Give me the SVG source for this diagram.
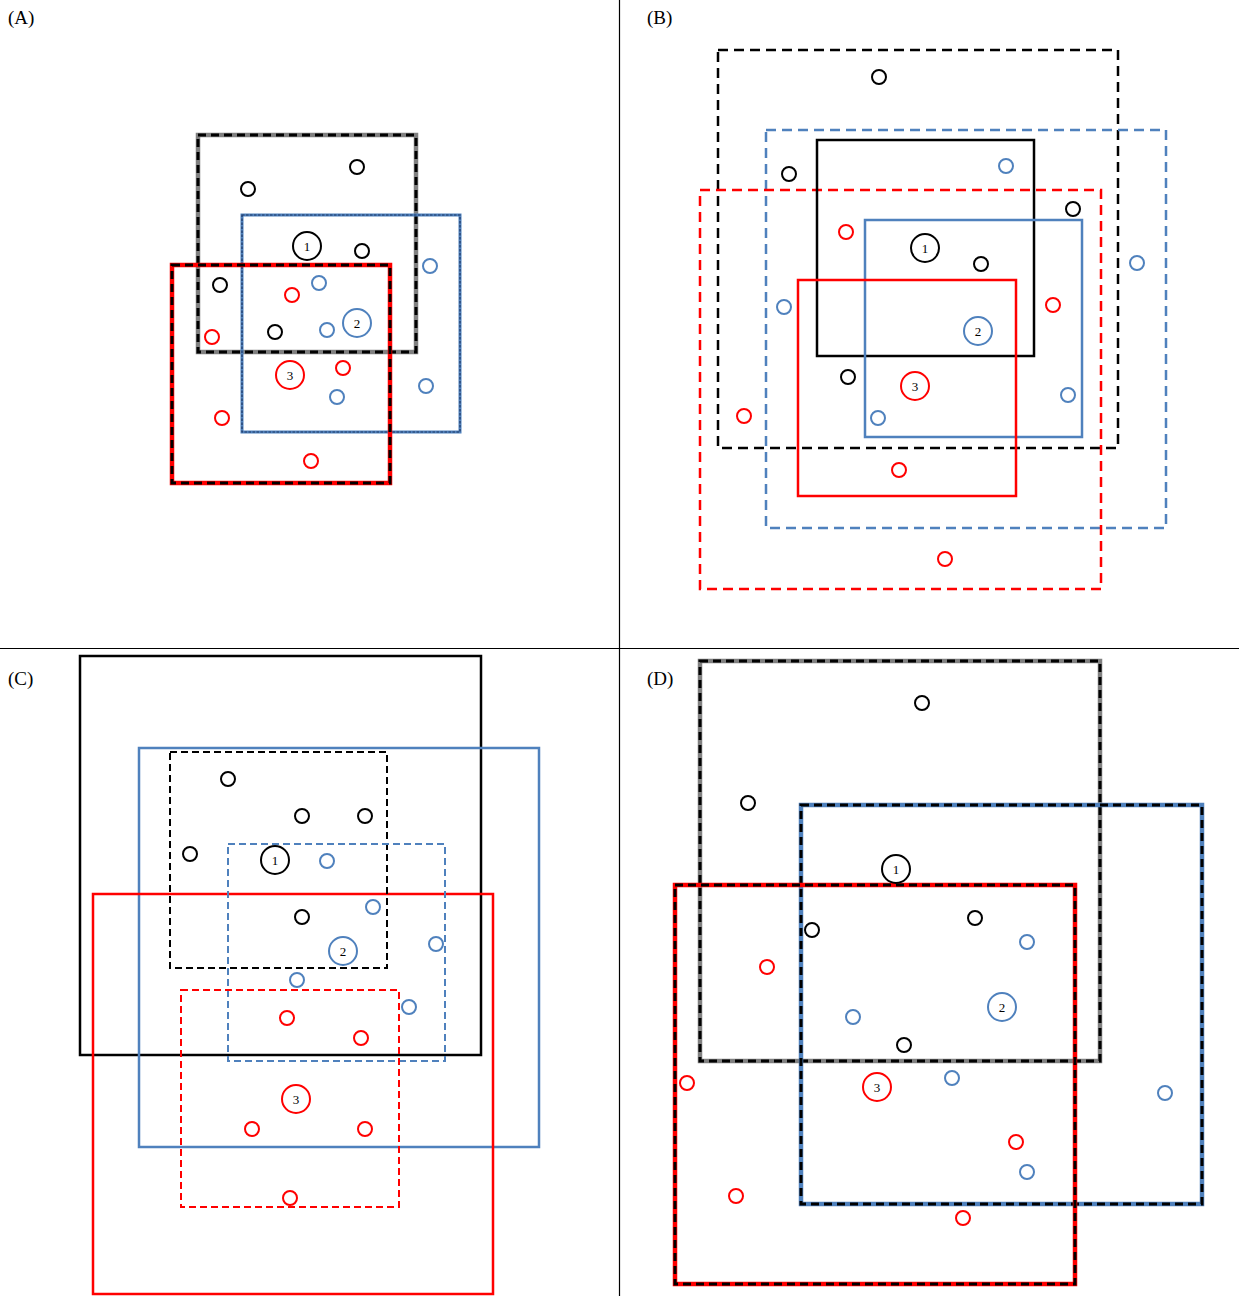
<svg xmlns="http://www.w3.org/2000/svg" width="1239" height="1296" viewBox="0 0 1239 1296">
<style>
rect{fill:none}
.lbl{font-family:"Liberation Serif","Times New Roman",serif;font-size:19px;fill:#000}
.nl{font-family:"Liberation Serif","Times New Roman",serif;font-size:13px;text-anchor:middle;fill:#000}
.k{stroke:#000}.b{stroke:#4F81BD}.r{stroke:#FF0000}
.pt{fill:none;stroke-width:2}
.nd{fill:none;stroke-width:2}
.sol{stroke-width:2.5}
.dB{stroke-width:2.5;stroke-dasharray:10 6}
.dC{stroke-width:2;stroke-dasharray:7 4}
.gray{stroke:#808080;stroke-width:4.5}
.over{stroke:#000;stroke-width:3;stroke-dasharray:8 5}
.bA{stroke:#4F81BD;stroke-width:3}
.bAo{stroke:#1F3864;stroke-width:1.2;stroke-dasharray:2.5 1.5}
.redT{stroke:#FF0000;stroke-width:4.5}
.blueT{stroke:#4F81BD;stroke-width:4.5}
</style>
<rect x="0" y="0" width="1239" height="1296" fill="#fff"/>
<g id="dividers" stroke="#000" stroke-width="1.2">
<line x1="619.5" y1="0" x2="619.5" y2="1296"/>
<line x1="0" y1="648.5" x2="1239" y2="648.5"/>
</g>
<text class="lbl" x="8" y="24">(A)</text>
<text class="lbl" x="647" y="24">(B)</text>
<text class="lbl" x="8" y="685">(C)</text>
<text class="lbl" x="647" y="685">(D)</text>

<g id="panelA">
<g id="A-box-black"><rect class="gray" x="198" y="135" width="218" height="217"/><rect class="over" x="198" y="135" width="218" height="217"/></g>
<g id="A-box-blue"><rect class="bA" x="242" y="215" width="218" height="217"/><rect class="bAo" x="242" y="215" width="218" height="217"/></g>
<g id="A-box-red"><rect class="redT" x="172" y="265" width="218" height="218"/><rect class="over" x="172" y="265" width="218" height="218"/></g>
<g id="A-points">
<circle class="pt k" cx="357" cy="167" r="7"/><circle class="pt k" cx="248" cy="189" r="7"/><circle class="pt k" cx="362" cy="251" r="7"/><circle class="pt k" cx="220" cy="285" r="7"/><circle class="pt k" cx="275" cy="332" r="7"/>
<circle class="pt b" cx="430" cy="266" r="7"/><circle class="pt b" cx="319" cy="283" r="7"/><circle class="pt b" cx="327" cy="330" r="7"/><circle class="pt b" cx="337" cy="397" r="7"/><circle class="pt b" cx="426" cy="386" r="7"/>
<circle class="pt r" cx="292" cy="295" r="7"/><circle class="pt r" cx="212" cy="337" r="7"/><circle class="pt r" cx="343" cy="368" r="7"/><circle class="pt r" cx="222" cy="418" r="7"/><circle class="pt r" cx="311" cy="461" r="7"/>
</g>
<g id="A-n1"><circle class="nd k" cx="307" cy="246" r="14"/><text class="nl" x="307" y="251">1</text></g>
<g id="A-n2"><circle class="nd b" cx="357" cy="323" r="14"/><text class="nl" x="357" y="328">2</text></g>
<g id="A-n3"><circle class="nd r" cx="290" cy="375" r="14"/><text class="nl" x="290" y="380">3</text></g>
</g>

<g id="panelB">
<g id="B-box-black-dash"><rect class="dB k" x="718" y="50" width="400" height="398"/></g>
<g id="B-box-blue-dash"><rect class="dB b" x="766" y="130" width="400" height="398"/></g>
<g id="B-box-red-dash"><rect class="dB r" x="700" y="190" width="401" height="399"/></g>
<g id="B-box-black"><rect class="sol k" x="817" y="140" width="217" height="216"/></g>
<g id="B-box-blue"><rect class="sol b" x="865" y="220" width="217" height="217"/></g>
<g id="B-box-red"><rect class="sol r" x="798" y="280" width="218" height="216"/></g>
<g id="B-points">
<circle class="pt k" cx="879" cy="77" r="7"/><circle class="pt k" cx="789" cy="174" r="7"/><circle class="pt k" cx="1073" cy="209" r="7"/><circle class="pt k" cx="981" cy="264" r="7"/><circle class="pt k" cx="848" cy="377" r="7"/>
<circle class="pt b" cx="1006" cy="166" r="7"/><circle class="pt b" cx="1137" cy="263" r="7"/><circle class="pt b" cx="784" cy="307" r="7"/><circle class="pt b" cx="1068" cy="395" r="7"/><circle class="pt b" cx="878" cy="418" r="7"/>
<circle class="pt r" cx="846" cy="232" r="7"/><circle class="pt r" cx="1053" cy="305" r="7"/><circle class="pt r" cx="744" cy="416" r="7"/><circle class="pt r" cx="899" cy="470" r="7"/><circle class="pt r" cx="945" cy="559" r="7"/>
</g>
<g id="B-n1"><circle class="nd k" cx="925" cy="248" r="14"/><text class="nl" x="925" y="253">1</text></g>
<g id="B-n2"><circle class="nd b" cx="978" cy="331" r="14"/><text class="nl" x="978" y="336">2</text></g>
<g id="B-n3"><circle class="nd r" cx="915" cy="386" r="14"/><text class="nl" x="915" y="391">3</text></g>
</g>

<g id="panelC">
<g id="C-box-black"><rect class="sol k" x="80" y="656" width="401" height="399"/></g>
<g id="C-box-blue"><rect class="sol b" x="139" y="748" width="400" height="399"/></g>
<g id="C-box-red"><rect class="sol r" x="93" y="894" width="400" height="400"/></g>
<g id="C-box-black-dash"><rect class="dC k" x="170" y="752" width="217" height="216"/></g>
<g id="C-box-blue-dash"><rect class="dC b" x="228" y="844" width="217" height="217"/></g>
<g id="C-box-red-dash"><rect class="dC r" x="181" y="990" width="218" height="217"/></g>
<g id="C-points">
<circle class="pt k" cx="228" cy="779" r="7"/><circle class="pt k" cx="302" cy="816" r="7"/><circle class="pt k" cx="365" cy="816" r="7"/><circle class="pt k" cx="190" cy="854" r="7"/><circle class="pt k" cx="302" cy="917" r="7"/>
<circle class="pt b" cx="327" cy="861" r="7"/><circle class="pt b" cx="373" cy="907" r="7"/><circle class="pt b" cx="436" cy="944" r="7"/><circle class="pt b" cx="297" cy="980" r="7"/><circle class="pt b" cx="409" cy="1007" r="7"/>
<circle class="pt r" cx="287" cy="1018" r="7"/><circle class="pt r" cx="361" cy="1038" r="7"/><circle class="pt r" cx="252" cy="1129" r="7"/><circle class="pt r" cx="365" cy="1129" r="7"/><circle class="pt r" cx="290" cy="1198" r="7"/>
</g>
<g id="C-n1"><circle class="nd k" cx="275" cy="860" r="14"/><text class="nl" x="275" y="865">1</text></g>
<g id="C-n2"><circle class="nd b" cx="343" cy="951" r="14"/><text class="nl" x="343" y="956">2</text></g>
<g id="C-n3"><circle class="nd r" cx="296" cy="1099" r="14"/><text class="nl" x="296" y="1104">3</text></g>
</g>

<g id="panelD">
<g id="D-box-black"><rect class="gray" x="700" y="661" width="400" height="400"/><rect class="over" x="700" y="661" width="400" height="400"/></g>
<g id="D-box-blue"><rect class="blueT" x="801" y="805" width="401" height="399"/><rect class="over" x="801" y="805" width="401" height="399"/></g>
<g id="D-box-red"><rect class="redT" x="675" y="885" width="400" height="399"/><rect class="over" x="675" y="885" width="400" height="399"/></g>
<g id="D-points">
<circle class="pt k" cx="922" cy="703" r="7"/><circle class="pt k" cx="748" cy="803" r="7"/><circle class="pt k" cx="975" cy="918" r="7"/><circle class="pt k" cx="812" cy="930" r="7"/><circle class="pt k" cx="904" cy="1045" r="7"/>
<circle class="pt b" cx="1027" cy="942" r="7"/><circle class="pt b" cx="853" cy="1017" r="7"/><circle class="pt b" cx="952" cy="1078" r="7"/><circle class="pt b" cx="1165" cy="1093" r="7"/><circle class="pt b" cx="1027" cy="1172" r="7"/>
<circle class="pt r" cx="767" cy="967" r="7"/><circle class="pt r" cx="687" cy="1083" r="7"/><circle class="pt r" cx="1016" cy="1142" r="7"/><circle class="pt r" cx="736" cy="1196" r="7"/><circle class="pt r" cx="963" cy="1218" r="7"/>
</g>
<g id="D-n1"><circle class="nd k" cx="896" cy="869" r="14"/><text class="nl" x="896" y="874">1</text></g>
<g id="D-n2"><circle class="nd b" cx="1002" cy="1007" r="14"/><text class="nl" x="1002" y="1012">2</text></g>
<g id="D-n3"><circle class="nd r" cx="877" cy="1087" r="14"/><text class="nl" x="877" y="1092">3</text></g>
</g>
</svg>
